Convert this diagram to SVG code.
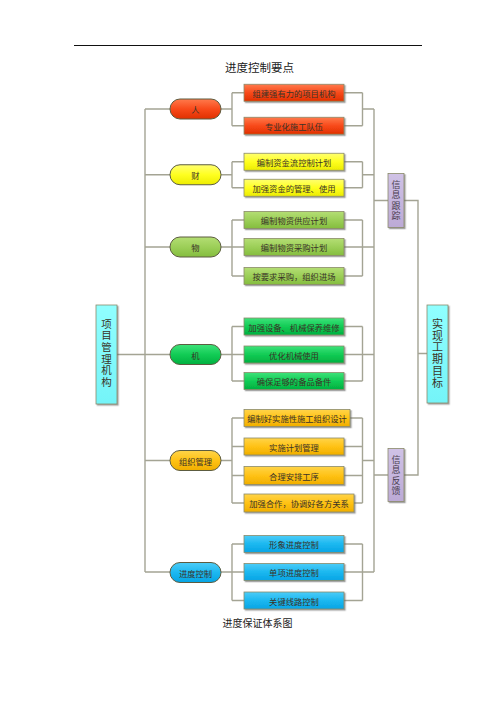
<svg xmlns="http://www.w3.org/2000/svg" width="496" height="702" viewBox="0 0 496 702">
<defs>
<style>
.t{font-family:"Noto Sans CJK SC","Noto Sans",sans-serif;font-size:8.3px;fill:#3a3328;text-anchor:middle;dominant-baseline:central}
.v{font-family:"Noto Sans CJK SC","Noto Sans",sans-serif;font-size:10.5px;fill:#3a3328;text-anchor:middle;writing-mode:vertical-rl;letter-spacing:1.2px}
.vs{font-family:"Noto Sans CJK SC","Noto Sans",sans-serif;font-size:9px;fill:#4a4050;text-anchor:middle;writing-mode:vertical-rl;letter-spacing:1.5px}
.ov{stroke:#5c5c40;stroke-width:1}
.bx{stroke:#8a8a6a;stroke-width:0.8;filter:url(#sh)}
.c{fill:none;stroke:#a4a494;stroke-width:1.4}
</style>
<filter id="sh" x="-10%" y="-20%" width="130%" height="160%">
<feDropShadow dx="1.3" dy="1.3" stdDeviation="0.6" flood-color="#555" flood-opacity="0.55"/>
</filter>
<linearGradient id="gr" x1="0" y1="0" x2="0" y2="1"><stop offset="0" stop-color="#ff7a4c"/><stop offset="0.5" stop-color="#f84a1a"/><stop offset="1" stop-color="#e03000"/></linearGradient>
<linearGradient id="gy" x1="0" y1="0" x2="0" y2="1"><stop offset="0" stop-color="#ffff70"/><stop offset="0.5" stop-color="#ffff20"/><stop offset="1" stop-color="#ecec00"/></linearGradient>
<linearGradient id="gl" x1="0" y1="0" x2="0" y2="1"><stop offset="0" stop-color="#b4de74"/><stop offset="0.5" stop-color="#9ccf58"/><stop offset="1" stop-color="#84bd3e"/></linearGradient>
<linearGradient id="gg" x1="0" y1="0" x2="0" y2="1"><stop offset="0" stop-color="#3ee27a"/><stop offset="0.5" stop-color="#12cc55"/><stop offset="1" stop-color="#00b040"/></linearGradient>
<linearGradient id="go" x1="0" y1="0" x2="0" y2="1"><stop offset="0" stop-color="#ffd44a"/><stop offset="0.5" stop-color="#ffc214"/><stop offset="1" stop-color="#f0ae00"/></linearGradient>
<linearGradient id="gb" x1="0" y1="0" x2="0" y2="1"><stop offset="0" stop-color="#4cccf8"/><stop offset="0.5" stop-color="#1cb8f0"/><stop offset="1" stop-color="#06a4e4"/></linearGradient>
<linearGradient id="gp" x1="0" y1="0" x2="0" y2="1"><stop offset="0" stop-color="#d0c2e6"/><stop offset="1" stop-color="#bcaad6"/></linearGradient>
<linearGradient id="gc" x1="0" y1="0" x2="0" y2="1"><stop offset="0" stop-color="#90ffff"/><stop offset="1" stop-color="#74f4f8"/></linearGradient>
</defs>
<rect width="496" height="702" fill="#ffffff"/>
<line x1="74" y1="45.5" x2="422" y2="45.5" stroke="#111" stroke-width="1"/>
<text x="259.5" y="67" font-family="'Noto Sans CJK SC',sans-serif" font-size="11.5" fill="#222" text-anchor="middle" dominant-baseline="central">进度控制要点</text>
<text x="257.5" y="622" font-family="'Noto Sans CJK SC',sans-serif" font-size="10" fill="#222" text-anchor="middle" dominant-baseline="central">进度保证体系图</text>

<g id="connectors" class="c">
<path d="M145,109 V572 M145,109 H170 M145,174.75 H170 M145,247 H170 M117,354.5 H170 M145,460.5 H170 M145,572 H170"/>
<path d="M221,109 H232 M232,92.75 V125.75 M232,92.75 H244 M232,125.75 H244 M344,92.75 H362.5 M344,125.75 H362.5 M362.5,92.75 V125.75 M362.5,109 H374"/>
<path d="M221,174.75 H232 M232,161.75 V187.75 M232,161.75 H244 M232,187.75 H244 M344,161.75 H362.5 M344,187.75 H362.5 M362.5,161.75 V187.75 M362.5,174.75 H374"/>
<path d="M221,247 H244 M232,220 V276 M232,220 H244 M232,276 H244 M344,220 H362.5 M344,247 H374 M344,276 H362.5 M362.5,220 V276"/>
<path d="M221,354.5 H244 M232,326.5 V381 M232,326.5 H244 M232,381 H244 M344,326.5 H362.5 M344,354.5 H374 M344,381 H362.5 M362.5,326.5 V381"/>
<path d="M221,460.5 H232 M232,418 V503 M232,418 H244 M232,446.5 H244 M232,475.5 H244 M232,503 H244 M350,418 H362.5 M344,446.5 H362.5 M344,475.5 H362.5 M354,503 H362.5 M362.5,418 V503 M362.5,460.5 H374"/>
<path d="M221,572 H244 M232,544 V600.5 M232,544 H244 M232,600.5 H244 M344,544 H362.5 M344,572 H374 M344,600.5 H362.5 M362.5,544 V600.5"/>
<path d="M374,109 V572 M374,200.5 H388 M374,475 H388 M404,200.5 H418 V475 H404 M418,353.5 H427"/>
</g>

<g id="root">
<rect class="bx" x="96" y="305" width="21" height="99" fill="url(#gc)"/>
<text class="v" x="106.5" y="353.5">项目管理机构</text>
</g>

<g id="n-ren">
<rect class="ov" x="170" y="99" width="51" height="20" rx="10" fill="url(#gr)"/>
<text class="t" x="195.5" y="109" font-size="9">人</text>
</g>
<g id="n-ren-1"><rect class="bx" x="244" y="84.25" width="100" height="17" fill="url(#gr)"/><text class="t" x="294" y="92.75">组建强有力的项目机构</text></g>
<g id="n-ren-2"><rect class="bx" x="244" y="117.25" width="100" height="17" fill="url(#gr)"/><text class="t" x="294" y="125.75">专业化施工队伍</text></g>

<g id="n-cai">
<rect class="ov" x="170" y="164.75" width="51" height="20" rx="10" fill="url(#gy)"/>
<text class="t" x="195.5" y="174.75" font-size="9">财</text>
</g>
<g id="n-cai-1"><rect class="bx" x="244" y="153.25" width="100" height="17" fill="url(#gy)"/><text class="t" x="294" y="161.75">编制资金流控制计划</text></g>
<g id="n-cai-2"><rect class="bx" x="244" y="179.25" width="100" height="17" fill="url(#gy)"/><text class="t" x="294" y="187.75">加强资金的管理、使用</text></g>

<g id="n-wu">
<rect class="ov" x="170" y="237" width="51" height="20" rx="10" fill="url(#gl)"/>
<text class="t" x="195.5" y="247" font-size="9">物</text>
</g>
<g id="n-wu-1"><rect class="bx" x="244" y="211.5" width="100" height="17" fill="url(#gl)"/><text class="t" x="294" y="220">编制物资供应计划</text></g>
<g id="n-wu-2"><rect class="bx" x="244" y="238.5" width="100" height="17" fill="url(#gl)"/><text class="t" x="294" y="247">编制物资采购计划</text></g>
<g id="n-wu-3"><rect class="bx" x="244" y="267.5" width="100" height="17" fill="url(#gl)"/><text class="t" x="294" y="276">按要求采购，组织进场</text></g>

<g id="n-ji">
<rect class="ov" x="170" y="344.5" width="51" height="20" rx="10" fill="url(#gg)"/>
<text class="t" x="195.5" y="354.5" font-size="9">机</text>
</g>
<g id="n-ji-1"><rect class="bx" x="244" y="318" width="100" height="17" fill="url(#gg)"/><text class="t" x="294" y="326.5">加强设备、机械保养维修</text></g>
<g id="n-ji-2"><rect class="bx" x="244" y="346" width="100" height="17" fill="url(#gg)"/><text class="t" x="294" y="354.5">优化机械使用</text></g>
<g id="n-ji-3"><rect class="bx" x="244" y="372.5" width="100" height="17" fill="url(#gg)"/><text class="t" x="294" y="381">确保足够的备品备件</text></g>

<g id="n-zz">
<rect class="ov" x="170" y="450.5" width="51" height="20" rx="10" fill="url(#go)"/>
<text class="t" x="195.5" y="460.5">组织管理</text>
</g>
<g id="n-zz-1"><rect class="bx" x="244" y="409.5" width="106" height="17" fill="url(#go)"/><text class="t" x="297" y="418">编制好实施性施工组织设计</text></g>
<g id="n-zz-2"><rect class="bx" x="244" y="438" width="100" height="17" fill="url(#go)"/><text class="t" x="294" y="446.5">实施计划管理</text></g>
<g id="n-zz-3"><rect class="bx" x="244" y="466.5" width="100" height="18" fill="url(#go)"/><text class="t" x="294" y="475.5">合理安排工序</text></g>
<g id="n-zz-4"><rect class="bx" x="244" y="494" width="110" height="18" fill="url(#go)"/><text class="t" x="299" y="503">加强合作，协调好各方关系</text></g>

<g id="n-jd">
<rect class="ov" x="170" y="562.5" width="51" height="20" rx="10" fill="url(#gb)"/>
<text class="t" x="195.5" y="572.5">进度控制</text>
</g>
<g id="n-jd-1"><rect class="bx" x="244" y="535.5" width="100" height="17" fill="url(#gb)"/><text class="t" x="294" y="544">形象进度控制</text></g>
<g id="n-jd-2"><rect class="bx" x="244" y="563.5" width="100" height="17" fill="url(#gb)"/><text class="t" x="294" y="572">单项进度控制</text></g>
<g id="n-jd-3"><rect class="bx" x="244" y="592" width="100" height="17" fill="url(#gb)"/><text class="t" x="294" y="600.5">关键线路控制</text></g>

<g id="n-gz">
<rect class="bx" x="388" y="173.5" width="16" height="54" fill="url(#gp)"/>
<text class="vs" x="396" y="201">信息跟踪</text>
</g>
<g id="n-fk">
<rect class="bx" x="388" y="448.5" width="16" height="53" fill="url(#gp)"/>
<text class="vs" x="396" y="476">信息反馈</text>
</g>
<g id="n-goal">
<rect class="bx" x="427" y="305" width="21" height="98" fill="url(#gc)"/>
<text class="v" x="437.5" y="353.5" font-size="11" style="font-size:11px;letter-spacing:0.8px">实现工期目标</text>
</g>
</svg>
